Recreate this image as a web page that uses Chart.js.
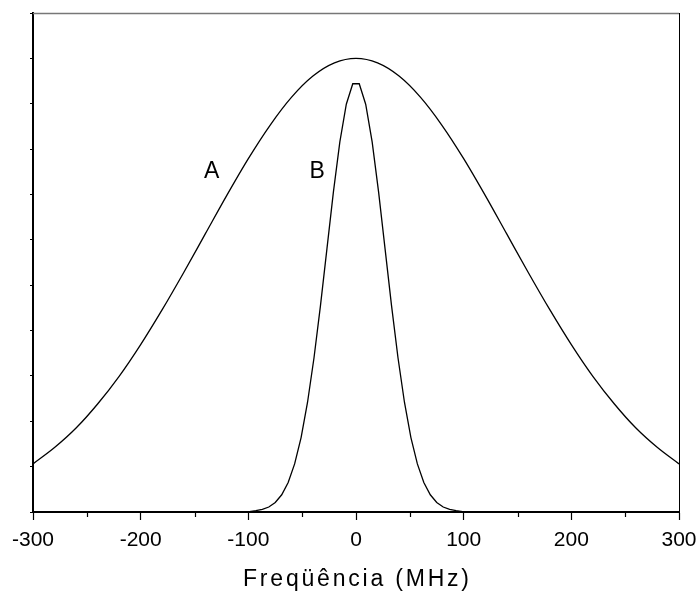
<!DOCTYPE html>
<html>
<head>
<meta charset="utf-8">
<script src="https://cdn.jsdelivr.net/npm/chart.js@4"></script>
<style>
  html, body { margin: 0; padding: 0; background: #fff; }
  #wrap { width: 696px; height: 594px; }
</style>
</head>
<body>
<div id="wrap"><canvas id="c" width="696" height="594"></canvas></div>
<script>
// Frequency (MHz) for curve A
const freqA = [-300, -280, -260, -240, -220, -200, -180, -160, -140, -120, -100, -80, -60, -40, -20, 0,
               20, 40, 60, 80, 100, 120, 140, 160, 180, 200, 220, 240, 260, 280, 300];
const valuesA = [1.06, 1.42, 1.85, 2.38, 2.99, 3.69, 4.46, 5.28, 6.13, 6.98, 7.79, 8.52, 9.14, 9.61, 9.90, 10.0,
                 9.90, 9.61, 9.14, 8.52, 7.79, 6.98, 6.13, 5.28, 4.46, 3.69, 2.99, 2.38, 1.85, 1.42, 1.06];
// Frequency (MHz) for curve B
const freqB = [-111, -105, -99, -93, -87, -81, -75, -69, -63, -57, -51, -45, -39, -33, -27, -21, -15, -9, -3,
               3, 9, 15, 21, 27, 33, 39, 45, 51, 57, 63, 69, 75, 81, 87, 93, 99, 105, 111];
const valuesB = [0, 0, 0.01, 0.03, 0.06, 0.11, 0.21, 0.38, 0.65, 1.06, 1.64, 2.42, 3.40, 4.55, 5.80, 7.05, 8.16, 8.99, 9.44,
                 9.44, 8.99, 8.16, 7.05, 5.80, 4.55, 3.40, 2.42, 1.64, 1.06, 0.65, 0.38, 0.21, 0.11, 0.06, 0.03, 0.01, 0, 0];
// Axis ticks
const xMajorTicks = [-300, -200, -100, 0, 100, 200, 300];
const xMinorTicks = [-250, -150, -50, 50, 150, 250];
const xTitle = 'Freqüência (MHz)';
// Curve labels: [text, x, y]
const curveLabels = [['A', -134, 7.5], ['B', -36, 7.5]];

const FONT = "'Liberation Sans', Arial, Helvetica, sans-serif";

const decor = {
  id: 'decor',
  afterDraw(chart) {
    const { ctx, chartArea: a, scales: { x, y } } = chart;
    ctx.save();
    // top and right borders
    ctx.lineWidth = 1.5;
    ctx.strokeStyle = '#777';
    ctx.beginPath();
    ctx.moveTo(a.left, a.top + 0.5);
    ctx.lineTo(a.right, a.top + 0.5);
    ctx.stroke();
    ctx.lineWidth = 1;
    ctx.strokeStyle = '#000';
    ctx.beginPath();
    ctx.moveTo(a.right + 0.5, a.top);
    ctx.lineTo(a.right + 0.5, a.bottom);
    ctx.stroke();
    // minor x ticks
    ctx.lineWidth = 1.2;
    ctx.strokeStyle = '#000';
    xMinorTicks.forEach(v => {
      const px = Math.round(x.getPixelForValue(v)) + 0.5;
      ctx.beginPath();
      ctx.moveTo(px, a.bottom);
      ctx.lineTo(px, a.bottom + 5);
      ctx.stroke();
    });
    // curve labels
    ctx.fillStyle = '#000';
    ctx.font = '23px ' + FONT;
    ctx.textAlign = 'center';
    ctx.textBaseline = 'middle';
    curveLabels.forEach(([t, vx, vy]) => {
      ctx.fillText(t, x.getPixelForValue(vx), y.getPixelForValue(vy));
    });
    // axis title
    ctx.font = '23px ' + FONT;
    ctx.letterSpacing = '2.8px';
    ctx.textAlign = 'center';
    ctx.fillText(xTitle, (a.left + a.right) / 2 + 1.4, 580);
    ctx.restore();
  }
};

new Chart(document.getElementById('c'), {
  type: 'line',
  data: {
    datasets: [
      {
        label: 'A',
        data: freqA.map((f, i) => ({ x: f, y: valuesA[i] })),
        borderColor: '#000',
        borderWidth: 1.3,
        pointRadius: 0,
        cubicInterpolationMode: 'monotone',
        fill: false
      },
      {
        label: 'B',
        data: freqB.map((f, i) => ({ x: f, y: valuesB[i] })),
        borderColor: '#000',
        borderWidth: 1.3,
        pointRadius: 0,
        tension: 0,
        fill: false
      }
    ]
  },
  options: {
    responsive: false,
    animation: false,
    devicePixelRatio: 1,
    layout: { padding: { top: 13, right: 17, left: 0, bottom: 0 } },
    plugins: { legend: { display: false }, tooltip: { enabled: false } },
    scales: {
      x: {
        type: 'linear',
        min: -300,
        max: 300,
        afterBuildTicks: s => { s.ticks = xMajorTicks.map(v => ({ value: v })); },
        afterFit: s => { s.height = 82; s.paddingLeft = 0; s.paddingRight = 0; },
        border: { display: true, color: '#000', width: 2 },
        grid: { drawOnChartArea: false, drawTicks: true, tickLength: 8, tickColor: '#000', tickWidth: 1.2 },
        ticks: {
          color: '#000',
          font: { family: FONT, size: 21 },
          padding: 8,
          maxRotation: 0,
          autoSkip: false
        }
      },
      y: {
        type: 'linear',
        min: 0,
        max: 11,
        afterFit: s => { s.width = 33; },
        border: { display: true, color: '#000', width: 2 },
        grid: { drawOnChartArea: false, drawTicks: true, tickLength: 3, tickColor: '#000', tickWidth: 1 },
        ticks: { display: false, stepSize: 1 }
      }
    }
  },
  plugins: [decor]
});
</script>
</body>
</html>
